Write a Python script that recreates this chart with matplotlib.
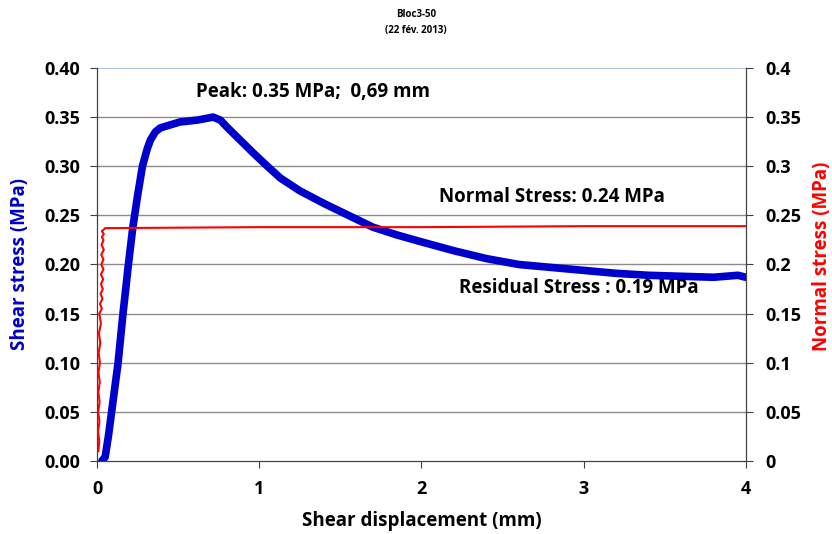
import matplotlib
matplotlib.use("Agg")
import matplotlib.pyplot as plt

# Shear stress curve (mm, MPa)
shear_x = [0.03, 0.05, 0.07, 0.09, 0.11, 0.13, 0.145, 0.16, 0.175, 0.19, 0.22, 0.25, 0.28,
           0.31, 0.33, 0.36, 0.39, 0.45, 0.51, 0.62, 0.715, 0.76, 0.80, 0.88, 0.96, 1.05, 1.13,
           1.25, 1.40, 1.55, 1.70, 1.85, 2.00, 2.20, 2.40, 2.60, 2.80, 3.00, 3.20, 3.40, 3.60,
           3.80, 3.95, 4.00]
shear_y = [0.00, 0.004, 0.025, 0.05, 0.075, 0.10, 0.125, 0.15, 0.172, 0.195, 0.237, 0.27, 0.30,
           0.318, 0.327, 0.335, 0.339, 0.342, 0.345, 0.347, 0.350, 0.347, 0.340, 0.327, 0.314, 0.300, 0.288,
           0.275, 0.262, 0.250, 0.238, 0.230, 0.223, 0.214, 0.206, 0.200, 0.197, 0.194, 0.191, 0.189, 0.188,
           0.187, 0.189, 0.187]

# Normal stress curve (mm, MPa)
normal_x = [0.008, 0.014, 0.006, 0.015, 0.007, 0.016, 0.008, 0.017, 0.009, 0.018, 0.010,
            0.020, 0.012, 0.024, 0.014, 0.030, 0.018, 0.034, 0.022, 0.036, 0.024, 0.038,
            0.024, 0.040, 0.026, 0.040, 0.026, 0.042, 0.028, 0.040, 0.030, 0.042, 0.030,
            0.045, 0.05, 1.0, 2.0, 3.0, 4.0]
normal_y = [0.01, 0.02, 0.03, 0.04, 0.05, 0.06, 0.07, 0.08, 0.09, 0.10, 0.11,
            0.12, 0.13, 0.14, 0.15, 0.155, 0.16, 0.165, 0.17, 0.175, 0.18, 0.185,
            0.19, 0.195, 0.20, 0.205, 0.21, 0.215, 0.22, 0.225, 0.228, 0.231, 0.234,
            0.236, 0.237, 0.238, 0.238, 0.239, 0.239]

left_ticks = [0.00, 0.05, 0.10, 0.15, 0.20, 0.25, 0.30, 0.35, 0.40]
right_ticks = [0, 0.05, 0.1, 0.15, 0.2, 0.25, 0.3, 0.35, 0.4]
right_labels = ["0", "0.05", "0.1", "0.15", "0.2", "0.25", "0.3", "0.35", "0.4"]
x_ticks = [0, 1, 2, 3, 4]

plt.rcParams['font.family'] = ['Open Sans', 'DejaVu Sans']

fig = plt.figure(figsize=(8.32, 5.34), dpi=100)
ax = fig.add_axes([0.1166, 0.1367, 0.78, 0.736])
ax2 = ax.twinx()

for y in left_ticks[1:-1]:
    ax.axhline(y, color='#8c8c8c', lw=1.0, zorder=0)
ax.axhline(0.40, color='#9db5d6', lw=1.2, zorder=0)

ax.plot(shear_x, shear_y, color='#0000cc', lw=5.5, solid_capstyle='round',
        solid_joinstyle='round', zorder=3)
ax2.plot(normal_x, normal_y, color='#ff0000', lw=1.5, zorder=4)

ax.set_xlim(0, 4)
ax.set_ylim(0, 0.40)
ax2.set_ylim(0, 0.4)
ax.set_xticks(x_ticks)
ax.set_xticklabels([str(t) for t in x_ticks], fontsize=13, fontweight='bold')
ax.set_yticks(left_ticks)
ax.set_yticklabels([f"{t:.2f}" for t in left_ticks], fontsize=13, fontweight='bold')
ax2.set_yticks(right_ticks)
ax2.set_yticklabels(right_labels, fontsize=13, fontweight='bold')

for a in (ax, ax2):
    a.spines['top'].set_visible(False)
    for s in ('left', 'right', 'bottom'):
        a.spines[s].set_color('#404040')
    a.tick_params(direction='out', length=5, color='#404040', pad=6)
ax.tick_params(axis='x', pad=9)
ax.tick_params(axis='y', pad=7)
ax2.tick_params(axis='y', pad=9)

ax.set_xlabel("Shear displacement (mm)", fontsize=13.5, fontweight='bold')
ax.xaxis.set_label_coords(0.5, -0.128)
ax.set_ylabel("Shear stress (MPa)", fontsize=13.5, fontweight='bold', color='#0000cc')
ax.yaxis.set_label_coords(-0.104, 0.5)
ax2.set_ylabel("Normal stress (MPa)", fontsize=13.5, fontweight='bold', color='#ff0000')
ax2.yaxis.set_label_coords(1.102, 0.52)

fig.text(0.5, 0.972, "Bloc3-50", ha='center', va='center', fontsize=7, fontweight='bold')
fig.text(0.5, 0.943, "(22 fév. 2013)", ha='center', va='center', fontsize=7, fontweight='bold')

ax.text(0.61, 0.376, "Peak: 0.35 MPa;  0,69 mm", fontsize=13.5, fontweight='bold', ha='left', va='center')
ax.text(2.11, 0.269, "Normal Stress: 0.24 MPa", fontsize=13.5, fontweight='bold', ha='left', va='center')
ax.text(2.23, 0.196 - 0.02, "Residual Stress : 0.19 MPa", fontsize=13.5, fontweight='bold', ha='left', va='center')

fig.savefig("out.png", dpi=100)
